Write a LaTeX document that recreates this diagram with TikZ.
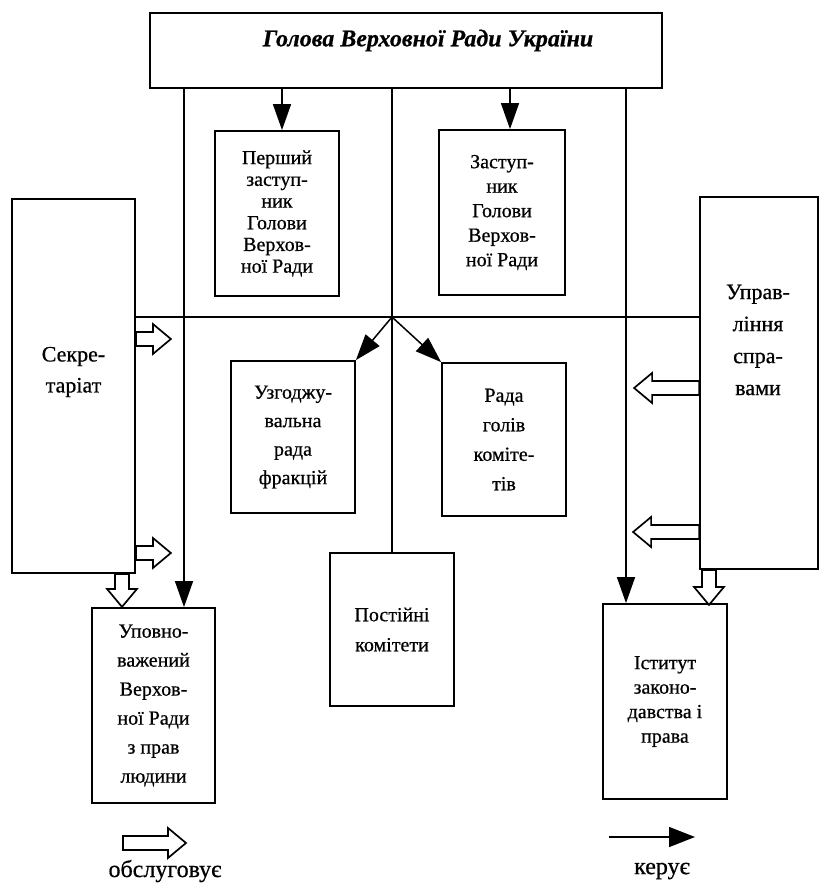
\documentclass[tikz,border=0pt]{standalone}
\usepackage{fontspec}
\setmainfont[FakeBold=0.6]{Liberation Serif}
\usetikzlibrary{arrows.meta}

\tikzset{
    box/.style={draw, line width=1.8pt, align=center, inner sep=0pt},
    lsk/.style={font=\fontsize{20}{#1}\selectfont},
    ctrl/.style={line width=1.5pt},
    ctrlarr/.style={ctrl, -{Triangle[length=26pt,width=18pt]}},
    legtxt/.style={font=\fontsize{24}{28}\selectfont},
    pics/servarr/.style={code={
        \draw[line width=1.7pt, fill=white] (0,-7) -- (#1-18,-7) -- (#1-18,-15)
            -- (#1,0) -- (#1-18,15) -- (#1-18,7) -- (0,7) -- cycle;
    }}
}

\begin{document}
\begin{tikzpicture}[x=1pt, y=-1pt]
    \useasboundingbox (0,0) rectangle (820,883);

    % Head of the Verkhovna Rada
    \node[box, minimum width=512, minimum height=75,
          label={[font=\bfseries\itshape\fontsize{24}{28}\selectfont, xshift=22pt, yshift=10pt]center:Голова Верховної Ради України}]
          (head) at (406,50.5) {};

    % Deputies
    \node[box, lsk=21.7, minimum width=124, minimum height=165] (perv) at (277,213.5)
        {Перший\\заступ-\\ник\\Голови\\Верхов-\\ної Ради};
    \node[box, lsk=24.5, minimum width=126, minimum height=165] (zast) at (502,212.5)
        {Заступ-\\ник\\Голови\\Верхов-\\ної Ради};

    % Side services
    \node[box, minimum width=123, minimum height=374,
          label={[align=center, font=\fontsize{22}{31}\selectfont, yshift=14pt]center:Секре-\\таріат}]
          (sekr) at (73.5,386) {};
    \node[box, minimum width=118, minimum height=372,
          label={[align=center, font=\fontsize{22}{32}\selectfont, xshift=-1pt, yshift=43pt]center:Управ-\\ління\\спра-\\вами}]
          (upr) at (759,383) {};

    % Councils
    \node[box, lsk=28.5, minimum width=124, minimum height=152] (uzgo) at (293,437)
        {Узгоджу-\\вальна\\рада\\фракцій};
    \node[box, lsk=29.5, minimum width=124, minimum height=153] (rada) at (504,439.5)
        {Рада\\голів\\коміте-\\тів};

    % Lower row
    \node[box, lsk=30, minimum width=124, minimum height=153] (post) at (392,629.5)
        {Постійні\\комітети};
    \node[box, lsk=29, minimum width=123, minimum height=195] (upov) at (153.5,705.5)
        {Уповно-\\важений\\Верхов-\\ної Ради\\з прав\\людини};
    \node[box, lsk=24.5, minimum width=124, minimum height=195] (inst) at (665,701.5)
        {Іститут\\законо-\\давства і\\права};

    % Control lines
    \coordinate (hub) at (392,317);
    \draw[ctrl] (head.south -| hub) -- (post.north);
    \draw[ctrl] (sekr.east |- hub) -- (upr.west |- hub);
    \draw[ctrlarr] (hub) -- (uzgo.north east);
    \draw[ctrlarr] (hub) -- (rada.north west);
    \draw[ctrlarr] (head.south -| 282,0) -- (perv.north -| 282,0);
    \draw[ctrlarr] (head.south -| 510,0) -- (zast.north -| 510,0);
    \draw[ctrlarr] (head.south -| 184,0) -- (upov.north -| 184,0);
    \draw[ctrlarr] (head.south -| 626,0) -- (inst.north -| 626,0);

    % Service arrows
    \pic at (sekr.east |- 0,339) {servarr=35};
    \pic at (sekr.east |- 0,553) {servarr=35};
    \pic[rotate=-90] at (sekr.south -| 122,0) {servarr=33};
    \pic[rotate=180] at (upr.west |- 0,388) {servarr=65};
    \pic[rotate=180] at (upr.west |- 0,532) {servarr=66};
    \pic[rotate=-90] at (upr.south -| 709,0) {servarr=35};

    % Legend
    \pic at (123,843) {servarr=63};
    \node[legtxt] (servlbl) at (165,871) {обслуговує};
    \coordinate (kfrom) at (609,837);
    \coordinate (kto) at (695,837);
    \draw[ctrl, -{Triangle[length=26pt,width=20pt]}] (kfrom) -- (kto);
    \node[legtxt] (ctrllbl) at (662,871) {керує};
\end{tikzpicture}
\end{document}
